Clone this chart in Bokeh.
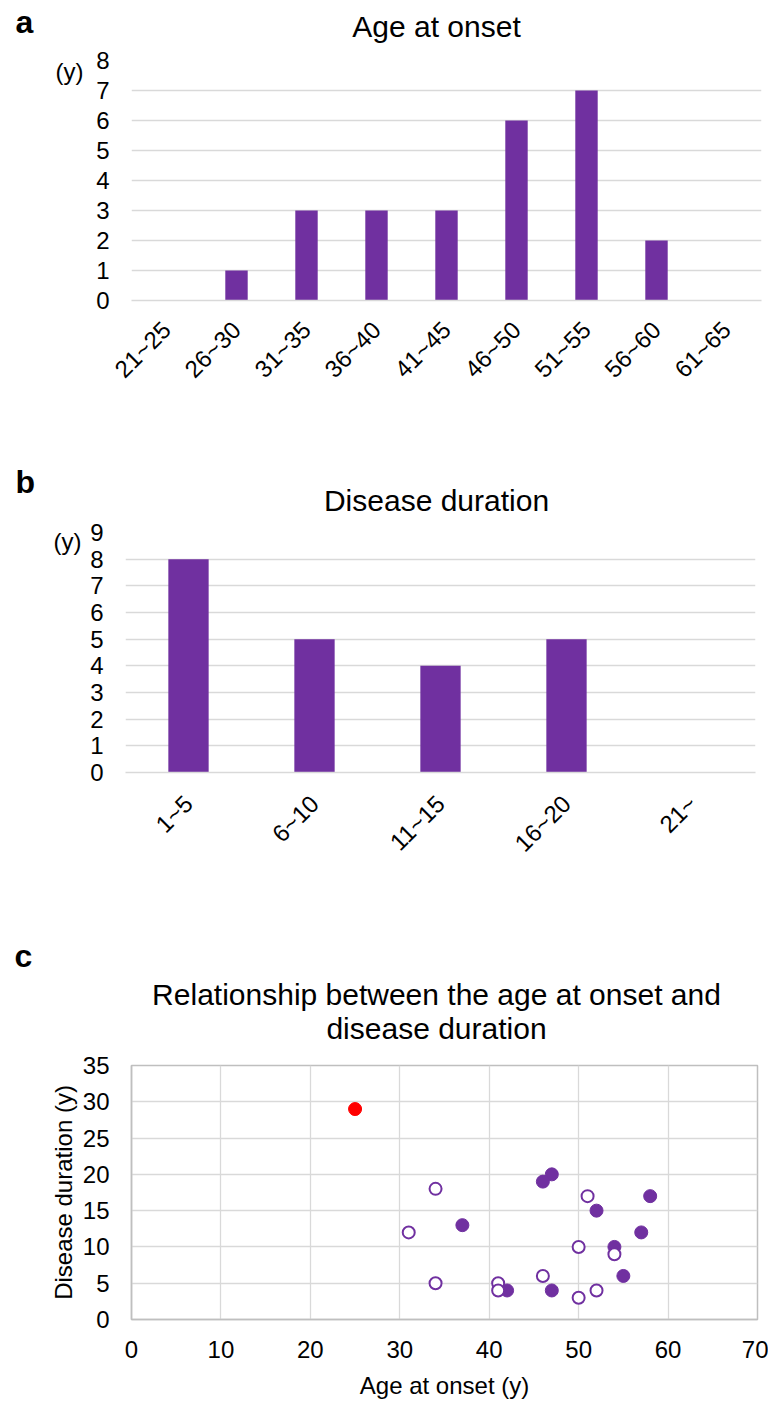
import math
from bokeh.plotting import figure
from bokeh.models import Range1d, FactorRange
from bokeh.layouts import column, row
from bokeh.core.properties import value
from bokeh.embed import file_html
from bokeh.resources import INLINE

FONT = "Liberation Sans"
PURPLE = "#7030A0"
GRID = "#d9d9d9"

# ---- data ----
age_cats = ["21~25", "26~30", "31~35", "36~40", "41~45", "46~50", "51~55", "56~60", "61~65"]
age_counts = [0, 1, 3, 3, 3, 6, 7, 2, 0]

dur_cats = ["1~5", "6~10", "11~15", "16~20", "21~"]
dur_counts = [8, 5, 4, 5, 0]

filled_age = [47, 46, 58, 52, 37, 57, 54, 55, 42, 47]
filled_dur = [20, 19, 17, 15, 13, 12, 10, 6, 4, 4]
open_age = [34, 51, 31, 50, 54, 46, 34, 41, 41, 52, 50]
open_dur = [18, 17, 12, 10, 9, 6, 5, 5, 4, 4, 3]
red_age = [25]
red_dur = [29]

age_ticks = list(range(0, 9))
dur_ticks = list(range(0, 10))
sx_ticks = list(range(0, 71, 10))
sy_ticks = list(range(0, 36, 5))

TITLE_A = "Age at onset"
TITLE_B = "Disease duration"
TITLE_C1 = "Relationship between the age at onset and"
TITLE_C2 = "disease duration"


def text_panel(w, h):
    """A blank figure whose data coordinates equal pixel coordinates (y downward)."""
    p = figure(x_range=Range1d(0, w), y_range=Range1d(h, 0),
               frame_width=w, frame_height=h, min_border=0,
               x_axis_location=None, y_axis_location=None,
               output_backend="svg", toolbar_location=None, frame_align=False)
    p.grid.grid_line_color = None
    p.outline_line_color = None
    p.background_fill_color = "white"
    p.border_fill_color = "white"
    return p


def put(p, x, baseline, txt, size, align="left", bold=False):
    # correction for how the text glyph places its alphabetic baseline
    y = baseline - 0.375 * size
    p.text(x=[x], y=[y], text=[txt], text_font=value(FONT), text_font_size=value(f"{size}px"),
           text_align=align, text_baseline="alphabetic",
           text_font_style="bold" if bold else "normal", text_color="black")


def style_common(p):
    p.background_fill_color = "white"
    p.border_fill_color = "white"
    for ax in (p.xaxis, p.yaxis):
        ax.major_label_text_font = FONT
        ax.major_label_text_font_size = "24px"
        ax.major_label_text_color = "black"
        ax.major_tick_line_color = None
        ax.minor_tick_line_color = None
        ax.major_tick_out = 0
        ax.major_tick_in = 0
        ax.minor_tick_out = 0
        ax.minor_tick_in = 0


def bar_fig(cats, counts, ticks, ymax, left, top, bottom, right, fw, fh, std):
    p = figure(x_range=FactorRange(*cats), y_range=Range1d(0, ymax),
               frame_width=fw, frame_height=fh,
               min_border_left=left, min_border_top=top,
               min_border_bottom=bottom, min_border_right=right,
               output_backend="svg", toolbar_location=None, frame_align=False)
    p.vbar(x=cats, top=counts, width=0.32, fill_color=PURPLE, line_color=None)
    style_common(p)
    p.outline_line_color = None
    p.xgrid.grid_line_color = None
    p.ygrid.grid_line_color = GRID
    p.ygrid.grid_line_width = 1.3
    p.yaxis.ticker = ticks
    p.yaxis.axis_line_color = None
    p.yaxis.major_label_standoff = 22
    p.xaxis.axis_line_color = GRID
    p.xaxis.axis_line_width = 1.3
    p.xaxis.major_label_orientation = math.pi / 4
    p.xaxis.major_label_standoff = std
    return p


W = 768

# ---- panel a ----
ha = text_panel(W, 46)
put(ha, 15, 33, "a", 32, bold=True)
put(ha, 436, 37, TITLE_A, 30, align="center")

sa = text_panel(86, 404)
put(sa, 69, 34, "(y)", 24, align="center")
pa = bar_fig(age_cats, age_counts, age_ticks, 8, 45, 14, 150, 7, 630, 240, 25)

# ---- panel b ----
hb = text_panel(W, 69)
put(hb, 15, 43, "b", 32, bold=True)
put(hb, 436, 61, TITLE_B, 30, align="center")

sb = text_panel(86, 411)
put(sb, 67, 31, "(y)", 24, align="center")
pb = bar_fig(dur_cats, dur_counts, dur_ticks, 9, 39, 13, 158, 13, 630, 240, 27)

# ---- panel c ----
hc = text_panel(W, 115)
put(hc, 14, 37, "c", 32, bold=True)
put(hc, 436, 75, TITLE_C1, 30, align="center")
put(hc, 436, 109, TITLE_C2, 30, align="center")

pc = figure(x_range=Range1d(0, 70), y_range=Range1d(0, 35),
            frame_width=626, frame_height=254,
            min_border_left=131, min_border_top=20,
            min_border_bottom=77, min_border_right=11,
            output_backend="svg", toolbar_location=None, frame_align=False)
style_common(pc)
pc.xaxis.ticker = sx_ticks
pc.yaxis.ticker = sy_ticks
pc.xgrid.grid_line_color = GRID
pc.ygrid.grid_line_color = GRID
pc.xgrid.grid_line_width = 1.3
pc.ygrid.grid_line_width = 1.3
pc.outline_line_color = "#bfbfbf"
pc.outline_line_width = 1.5
pc.xaxis.axis_line_color = "#bfbfbf"
pc.yaxis.axis_line_color = "#bfbfbf"
pc.xaxis.axis_line_width = 1.5
pc.yaxis.axis_line_width = 1.5
pc.xaxis.major_label_standoff = 21
pc.yaxis.major_label_standoff = 22
pc.xaxis.axis_label = "Age at onset (y)"
pc.yaxis.axis_label = "Disease duration (y)"
for ax in (pc.xaxis, pc.yaxis):
    ax.axis_label_text_font = FONT
    ax.axis_label_text_font_size = "24px"
    ax.axis_label_text_font_style = "normal"
    ax.axis_label_text_color = "black"
pc.xaxis.axis_label_standoff = 11
pc.yaxis.axis_label_standoff = 3

pc.scatter(filled_age, filled_dur, size=13, fill_color=PURPLE, line_color=PURPLE, line_width=1)
pc.scatter(open_age, open_dur, size=12, fill_color="white", line_color=PURPLE, line_width=2)
pc.scatter(red_age, red_dur, size=13, fill_color="#FF0000", line_color="#FF0000", line_width=1)

layout = column(ha, row(sa, pa), hb, row(sb, pb), hc, pc, spacing=0)
open("out.html", "w").write(file_html(layout, INLINE))
